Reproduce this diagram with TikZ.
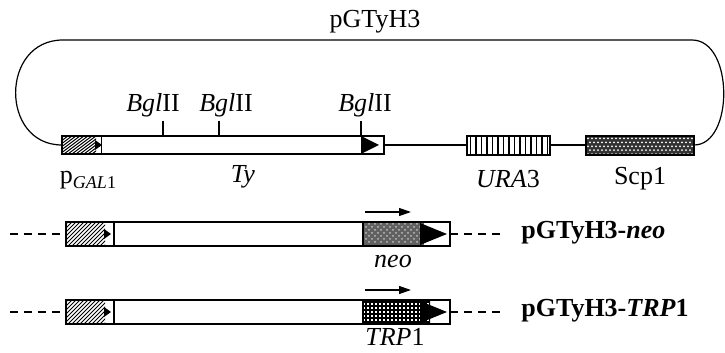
\documentclass[tikz,border=0pt]{standalone}
\usepackage{fontspec}
\setmainfont{Liberation Serif}
\usetikzlibrary{arrows.meta,patterns}
\begin{document}
\begin{tikzpicture}[x=0.5pt,y=-0.5pt,
  every node/.style={font=\fontsize{13}{15}\selectfont,inner sep=1pt},
  backbone/.style={line width=.6pt},
  genebox/.style={draw,line width=.8pt},
  flank/.style={line width=.8pt,dash pattern=on 4pt off 3pt},
  readdir/.style={line width=.6pt,-{Triangle[length=6pt,width=4pt]}}]
\useasboundingbox (0,0) rectangle (725,353);
% ---- pGTyH3 backbone
\draw[backbone] (62,145) .. controls (0,145) and (0,40) .. (63,40) -- (692,40)
  .. controls (734,40) and (734,145) .. (694,145);
\node (plasmid) at (375,22) {pGTyH3};
\draw[backbone] (384,145) -- (467,145);
\draw[backbone] (550,145) -- (586,145);
% ---- promoters, hatched, with a small arrow at the Ty end
\foreach \xa/\xb/\xc/\ya/\yb in {62/96/101.5/136/154,66/105/114/222/246,66/105/114/300/324}{
  \begin{scope}
    \clip (\xa,\ya) rectangle (\xb,\yb);
    \foreach \k in {-30,-26,...,50}{\draw[line width=.5pt] (\xa+\k,\yb) -- (\xa+\k+24,\ya);}
  \end{scope}
  \fill (\xb-1,{(\ya+\yb)/2-5}) -- (\xb+6,{(\ya+\yb)/2}) -- (\xb-1,{(\ya+\yb)/2+5}) -- cycle;
  \draw[genebox] (\xa,\ya) rectangle (\xc,\yb);
}
% ---- Ty
\draw[genebox] (101.5,136) rectangle (362,154);
\draw[genebox] (362,136) rectangle (384,154);
\fill (363,137) -- (379,145) -- (363,153) -- cycle;
\foreach \x/\lx/\n in {163/153/bgla,219/226/bglb,361/365/bglc}{
  \draw[backbone] (\x,121) -- (\x,136);
  \node (\n) at (\lx,105) {\textit{Bgl}II};
}
\node (pgal) at (88,180) {p\raisebox{-.45ex}{\fontsize{9}{10}\selectfont\textit{GAL}1}};
\node (ty) at (243,177) {\textit{Ty}};
% ---- URA3, striped
\fill[white] (467,136) rectangle (550,155);
\foreach \i in {0,...,14}{\draw[line width=.9pt] ({470.5+5.5*\i},136) -- ({470.5+5.5*\i},155);}
\draw[genebox] (467,136) rectangle (550,155);
\node (ura) at (508,179) {\textit{URA}3};
% ---- Scp1, dark with white dots
\fill[black!80] (586,136) rectangle (694,155);
\begin{scope}
  \clip (586,136) rectangle (694,155);
  \foreach \i in {0,...,27}{\foreach \j in {0,...,4}{%
    \fill[white] ({588+4*\i+2*mod(\j,2)},{138.5+3.9*\j}) circle (1);}}
\end{scope}
\draw[genebox] (586,136) rectangle (694,155);
\node (scp) at (640,179) {Scp1};
% ---- the two tagged Ty constructs
\foreach \y in {234,312}{
  \draw[flank] (10,\y) -- (66,\y);
  \draw[flank] (450,\y) -- (500,\y);
  \draw[genebox] (114,\y-12) rectangle (363,\y+12);
  \draw[readdir] (365,\y-22) -- (411,\y-22);
}
% neo
\fill[black!62] (363,222) rectangle (424,246);
\fill[pattern=crosshatch dots,pattern color=black!25] (365,224) rectangle (422,244);
\fill (420,223) -- (447,234) -- (420,245) -- cycle;
\draw[genebox] (363,222) rectangle (450,246);
\node (neo) at (393,262) {\textit{neo}};
\node[anchor=west] (cneo) at (519,233) {\textbf{pGTyH3-\textit{neo}}};
% TRP1, fine grid
\begin{scope}
  \clip (363,300) rectangle (430,324);
  \foreach \i in {0,...,17}{\draw[line width=.6pt] ({366+4*\i},300) -- ({366+4*\i},324);}
  \foreach \j in {0,...,5}{\draw[line width=.6pt] (363,{302+4*\j}) -- (430,{302+4*\j});}
\end{scope}
\fill (420,301) -- (447,312) -- (420,323) -- cycle;
\draw[genebox] (363,300) rectangle (450,324);
\node (trp) at (395,337) {\textit{TRP}1};
\node[anchor=west] (ctrp) at (519,311) {\textbf{pGTyH3-\textit{TRP}1}};
\end{tikzpicture}
\end{document}
